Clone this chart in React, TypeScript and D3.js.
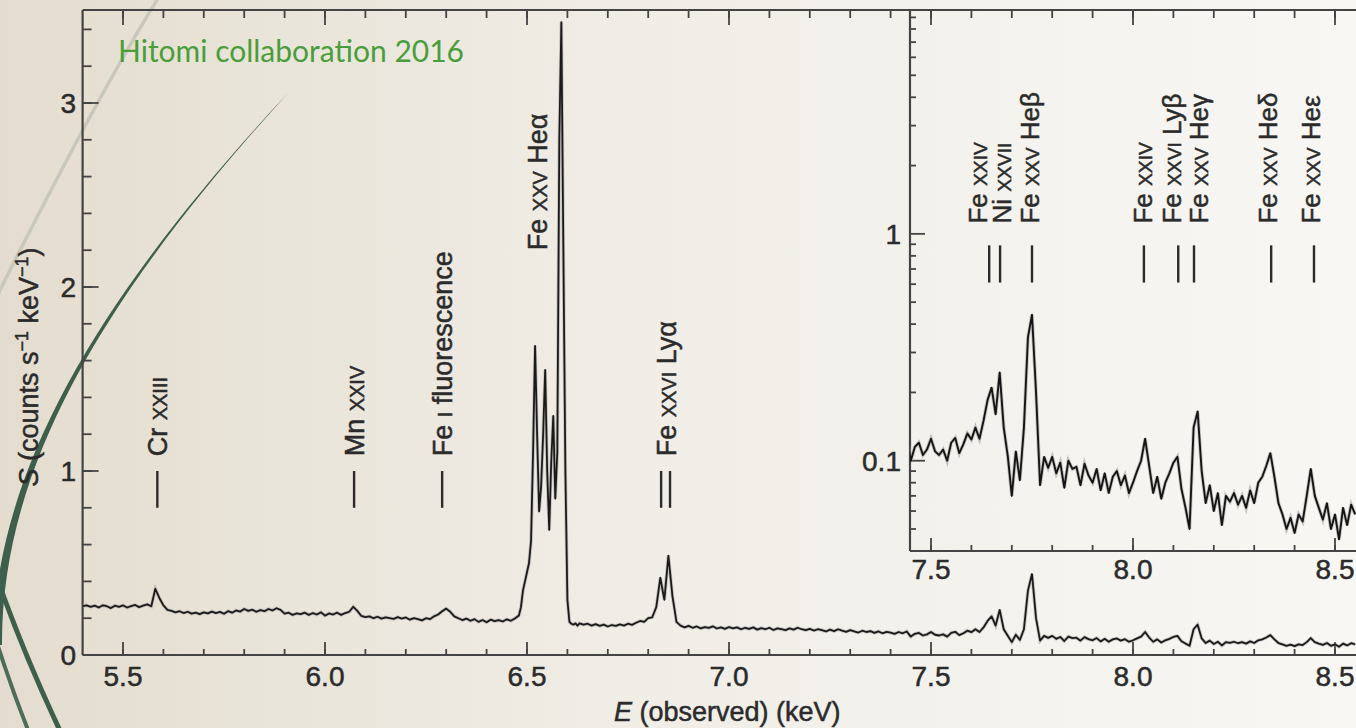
import React from 'react';
import * as d3 from 'd3';

const W = 1356;
const H = 728;

// Resolve spectrum, S (counts s-1 keV-1)
// 5.40 .. 6.48 keV, 0.01 keV bins
const lowStart = 5.4;
const lowCounts = [
  0.265, 0.27, 0.262, 0.268, 0.258, 0.27, 0.265, 0.255, 0.268, 0.262,
  0.27, 0.258, 0.266, 0.272, 0.26, 0.268, 0.275, 0.265, 0.36, 0.31,
  0.27, 0.245, 0.24, 0.232, 0.238, 0.228, 0.235, 0.225, 0.23, 0.222,
  0.232, 0.226, 0.236, 0.228, 0.234, 0.224, 0.238, 0.23, 0.242, 0.236,
  0.25, 0.24, 0.246, 0.235, 0.244, 0.238, 0.25, 0.242, 0.254, 0.245,
  0.225, 0.23, 0.218, 0.226, 0.222, 0.23, 0.218, 0.228, 0.22, 0.232,
  0.214, 0.226, 0.22, 0.23, 0.218, 0.228, 0.235, 0.262, 0.24, 0.212,
  0.206, 0.21, 0.2, 0.208, 0.198, 0.205, 0.2, 0.196, 0.206, 0.198,
  0.204, 0.192, 0.2, 0.195, 0.188, 0.2, 0.195, 0.21, 0.22, 0.238,
  0.252, 0.235, 0.21, 0.2, 0.19, 0.198, 0.186, 0.195, 0.18, 0.19,
  0.178, 0.192, 0.184, 0.19, 0.182, 0.194, 0.186, 0.198, 0.215,
];
// Fe XXV He-alpha complex, 6.485 .. 6.625 keV, 0.005 keV bins
const heStart = 6.485;
const heCounts = [
  0.26, 0.35, 0.4, 0.45, 0.5, 0.62, 1.1, 1.68, 1.2, 0.78,
  0.92, 1.2, 1.55, 1.0, 0.68, 1.05, 1.3, 0.85, 1.1, 2.8,
  3.44, 2.2, 1.0, 0.3, 0.18, 0.17, 0.165, 0.172, 0.16,
];
// 6.63 .. 8.55 keV, 0.01 keV bins
const highStart = 6.63;
const highCounts = [
  0.172, 0.165, 0.17, 0.16, 0.168, 0.158, 0.165, 0.155, 0.163, 0.158,
  0.166, 0.16, 0.17, 0.164, 0.175, 0.185, 0.18, 0.2, 0.205, 0.26,
  0.42, 0.3, 0.54, 0.32, 0.18, 0.16, 0.15, 0.158, 0.148, 0.155,
  0.145, 0.152, 0.147, 0.156, 0.144, 0.15, 0.142, 0.152, 0.145, 0.15,
  0.14, 0.148, 0.142, 0.15, 0.138, 0.146, 0.14, 0.148, 0.136, 0.145,
  0.14, 0.135, 0.145, 0.138, 0.148, 0.14, 0.135, 0.142, 0.133, 0.14,
  0.135, 0.128, 0.138, 0.13, 0.14, 0.132, 0.126, 0.135, 0.128, 0.122,
  0.132, 0.125, 0.13, 0.12, 0.128, 0.118, 0.126, 0.122, 0.115, 0.125,
  0.118, 0.128, 0.1, 0.115, 0.12, 0.106, 0.112, 0.125, 0.11, 0.106,
  0.112, 0.1, 0.12, 0.126, 0.108, 0.118, 0.132, 0.124, 0.14, 0.125,
  0.15, 0.185, 0.21, 0.16, 0.245, 0.14, 0.105, 0.07, 0.11, 0.082,
  0.14, 0.35, 0.44, 0.2, 0.078, 0.104, 0.093, 0.104, 0.088, 0.098,
  0.076, 0.1, 0.092, 0.094, 0.078, 0.097, 0.086, 0.08, 0.092, 0.074,
  0.088, 0.072, 0.085, 0.09, 0.078, 0.086, 0.072, 0.08, 0.09, 0.1,
  0.125, 0.095, 0.072, 0.085, 0.068, 0.08, 0.088, 0.098, 0.104, 0.075,
  0.062, 0.05, 0.14, 0.165, 0.09, 0.065, 0.078, 0.06, 0.072, 0.052,
  0.07, 0.066, 0.072, 0.064, 0.07, 0.062, 0.074, 0.065, 0.08, 0.085,
  0.095, 0.108, 0.085, 0.065, 0.058, 0.05, 0.056, 0.048, 0.058, 0.054,
  0.07, 0.092, 0.07, 0.062, 0.055, 0.065, 0.05, 0.058, 0.045, 0.062,
  0.052, 0.064, 0.058,
];

const xMajor = [5.5, 6.0, 6.5, 7.0, 7.5, 8.0, 8.5];
const yMajor = [0, 1, 2, 3];
const insetXMajor = [7.5, 8.0, 8.5];
const insetYMajor = [0.1, 1];
const insetYLabels = ['0.1', '1'];

// line identifications, main panel
const mainEl = ['Cr', 'Mn', 'Fe', 'Fe', 'Fe'];
const mainIon = ['XXIII', 'XXIV', 'I', 'XXV', 'XXVI'];
const mainTr = ['', '', 'fluorescence', 'Heα', 'Lyα'];
const mainLabelE = [5.585, 6.072, 6.29, 6.525, 6.845];
const mainLabelS = [1.08, 1.08, 1.08, 2.2, 1.08];
const mainBarE = [5.585, 6.072, 6.29, 6.832, 6.854];

// line identifications, inset
const insetEl = ['Fe', 'Ni', 'Fe', 'Fe', 'Fe', 'Fe', 'Fe', 'Fe'];
const insetIon = ['XXIV', 'XXVII', 'XXV', 'XXIV', 'XXVI', 'XXV', 'XXV', 'XXV'];
const insetTr = ['', '', 'Heβ', '', 'Lyβ', 'Heγ', 'Heδ', 'Heε'];
const insetLabelE = [7.616, 7.676, 7.745, 8.025, 8.097, 8.164, 8.335, 8.441];
const insetBarE = [7.644, 7.671, 7.75, 8.027, 8.112, 8.151, 8.342, 8.448];

type Pt = { e: number; s: number };

const spectrum: Pt[] = [
  ...lowCounts.map((s, i) => ({ e: lowStart + i * 0.01, s })),
  ...heCounts.map((s, i) => ({ e: heStart + i * 0.005, s })),
  ...highCounts.map((s, i) => ({ e: highStart + i * 0.01, s })),
];

const FONT = "'Liberation Sans', Arial, Helvetica, sans-serif";
const INK = '#2b2b2b';
const AXIS = '#444';

function LineLabel({ x, y, el, ion, tr, fs }: any) {
  return (
    <text
      transform={`translate(${x},${y}) rotate(-90)`}
      dy="0.35em"
      fontSize={fs}
      fill={INK}
      stroke={INK}
      strokeWidth={0.5}
    >
      {el + ' '}
      <tspan fontSize={fs * 0.74}>{ion}</tspan>
      {tr ? ' ' + tr : ''}
    </text>
  );
}

export default function App() {
  const x = d3.scaleLinear().domain([5.4, 8.6]).range([82.6, 82.6 + 404 * 3.2]);
  const y = d3.scaleLinear().domain([0, 3.5]).range([655, 11]);
  const yIn = d3.scaleLog().domain([0.04, 9.7]).range([551, 10]);

  const left = x(5.4);
  const bottom = y(0);
  const top = 10;
  const inLeft = x(7.448);
  const inBottom = yIn(0.04);

  const mainLine = d3
    .line<Pt>()
    .x((d) => x(d.e))
    .y((d) => y(d.s))(spectrum) as string;
  const insetLine = d3
    .line<Pt>()
    .x((d) => x(d.e))
    .y((d) => yIn(d.s))(spectrum.filter((d) => d.e > 7.4)) as string;

  const xMinor = d3.range(5.5, 8.56, 0.1);
  const yMinor = d3.range(0.2, 3.45, 0.2);
  const inXMinor = d3.range(7.5, 8.56, 0.1);
  const inYMinor = [0.05, 0.06, 0.07, 0.08, 0.09, 0.2, 0.3, 0.4, 0.5, 0.6, 0.7, 0.8, 0.9, 2, 3, 4, 5, 6, 7, 8, 9];

  return (
    <svg width={W} height={H} style={{ display: 'block', position: 'absolute', left: 0, top: 0 }} fontFamily={FONT}>
      <defs>
        <linearGradient id="bg" x1="0" y1="0" x2="1" y2="0">
          <stop offset="0" stopColor="#e4ddcf" />
          <stop offset="0.45" stopColor="#f0ede6" />
          <stop offset="1" stopColor="#f8f7f4" />
        </linearGradient>
        <clipPath id="mainClip">
          <rect x={left} y={top} width={W - left} height={bottom - top} />
        </clipPath>
        <clipPath id="insetClip">
          <rect x={inLeft} y={top} width={W - inLeft} height={inBottom - top} />
        </clipPath>
      </defs>
      <rect x={0} y={0} width={W} height={H} fill="url(#bg)" />

      {/* slide decoration arcs */}
      <path d="M160,-5 Q95,100 -5,300" fill="none" stroke="#c6c9bb" strokeWidth={3.5} />
      <path d="M288,93 C104,290 -6,468 -7,645 L2,645 C1,462 110,289 288,93 Z" fill="#3e5f4c" />
      <path d="M-4,575 Q22,650 62,735" fill="none" stroke="#3e5f4c" strokeWidth={5} />
      <path d="M-4,640 Q12,690 30,735" fill="none" stroke="#4d6c5a" strokeWidth={4} />

      {/* main frame */}
      <g stroke={AXIS} strokeWidth={2.2} fill="none">
        <line x1={left} x2={left} y1={top} y2={bottom} />
        <line x1={left} x2={W} y1={top} y2={top} />
        <line x1={left} x2={W} y1={bottom} y2={bottom} />
      </g>
      <g stroke={AXIS} strokeWidth={1.8}>
        {xMinor.map((v, i) => (
          <g key={'xm' + i}>
            <line x1={x(v)} x2={x(v)} y1={bottom} y2={bottom - 6} />
            <line x1={x(v)} x2={x(v)} y1={top} y2={top + 8} />
          </g>
        ))}
        {xMajor.map((v) => (
          <g key={'xM' + v}>
            <line x1={x(v)} x2={x(v)} y1={bottom} y2={bottom - 13} />
            <line x1={x(v)} x2={x(v)} y1={top} y2={top + 15} />
          </g>
        ))}
        {yMinor.map((v, i) => (
          <line key={'ym' + i} x1={left} x2={left + 9} y1={y(v)} y2={y(v)} />
        ))}
        {yMajor.map((v) => (
          <line key={'yM' + v} x1={left} x2={left + 16} y1={y(v)} y2={y(v)} />
        ))}
      </g>
      <g fill={INK} fontSize={28} stroke={INK} strokeWidth={0.5}>
        {xMajor.map((v) => (
          <text key={'xl' + v} x={x(v)} y={686} textAnchor="middle">
            {v.toFixed(1)}
          </text>
        ))}
        {yMajor.map((v) => (
          <text key={'yl' + v} x={76} y={y(v)} dy="0.36em" textAnchor="end">
            {v}
          </text>
        ))}
      </g>

      {/* main spectrum */}
      <g clipPath="url(#mainClip)" fill="none">
        <path d={mainLine} stroke="#9a9a9a" strokeWidth={3.4} strokeOpacity={0.55} />
        <path d={mainLine} stroke="#1a1a1a" strokeWidth={1.8} strokeLinejoin="round" />
      </g>

      {/* main line identifications */}
      <g stroke={INK} strokeWidth={2.4}>
        {mainBarE.map((e, i) => (
          <line key={'mb' + i} x1={x(e)} x2={x(e)} y1={y(0.8)} y2={y(1.0)} />
        ))}
      </g>
      {mainEl.map((el, i) => (
        <LineLabel key={'ml' + i} x={x(mainLabelE[i])} y={y(mainLabelS[i])} el={el} ion={mainIon[i]} tr={mainTr[i]} fs={27} />
      ))}

      {/* inset */}
      <g stroke={AXIS} strokeWidth={2.2} fill="none">
        <line x1={inLeft} x2={inLeft} y1={top} y2={inBottom} />
        <line x1={inLeft} x2={W} y1={inBottom} y2={inBottom} />
      </g>
      <g stroke={AXIS} strokeWidth={1.8}>
        {inXMinor.map((v, i) => (
          <line key={'ixm' + i} x1={x(v)} x2={x(v)} y1={inBottom} y2={inBottom - 6} />
        ))}
        {insetXMajor.map((v) => (
          <line key={'ixM' + v} x1={x(v)} x2={x(v)} y1={inBottom} y2={inBottom - 13} />
        ))}
        {inYMinor.map((v, i) => (
          <line key={'iym' + i} x1={inLeft} x2={inLeft + 6} y1={yIn(v)} y2={yIn(v)} />
        ))}
        {insetYMajor.map((v) => (
          <line key={'iyM' + v} x1={inLeft} x2={inLeft + 15} y1={yIn(v)} y2={yIn(v)} />
        ))}
      </g>
      <g fill={INK} fontSize={28} stroke={INK} strokeWidth={0.5}>
        {insetXMajor.map((v) => (
          <text key={'ixl' + v} x={x(v)} y={579} textAnchor="middle">
            {v.toFixed(1)}
          </text>
        ))}
        {insetYMajor.map((v, i) => (
          <text key={'iyl' + v} x={inLeft - 9} y={yIn(v)} dy="0.36em" textAnchor="end">
            {insetYLabels[i]}
          </text>
        ))}
      </g>
      <g clipPath="url(#insetClip)" fill="none">
        <path d={insetLine} stroke="#9a9a9a" strokeWidth={3.6} strokeOpacity={0.55} />
        <path d={insetLine} stroke="#151515" strokeWidth={1.9} strokeLinejoin="round" />
      </g>
      <g stroke={INK} strokeWidth={2.4}>
        {insetBarE.map((e, i) => (
          <line key={'ib' + i} x1={x(e)} x2={x(e)} y1={yIn(0.61)} y2={yIn(0.89)} />
        ))}
      </g>
      {insetEl.map((el, i) => (
        <LineLabel key={'il' + i} x={x(insetLabelE[i])} y={yIn(1.11)} el={el} ion={insetIon[i]} tr={insetTr[i]} fs={26} />
      ))}

      {/* axis titles */}
      <text
        transform={`translate(29,${367}) rotate(-90)`}
        dy="0.35em"
        textAnchor="middle"
        fontSize={27}
        fill={INK}
        stroke={INK}
        strokeWidth={0.5}
      >
        <tspan fontStyle="italic">S</tspan>
        {' (counts s'}
        <tspan dy={-10} fontSize={18}>−1</tspan>
        <tspan dy={10}>{' keV'}</tspan>
        <tspan dy={-10} fontSize={18}>−1</tspan>
        <tspan dy={10}>)</tspan>
      </text>
      <text x={614} y={721} fontSize={27} fill={INK} stroke={INK} strokeWidth={0.5}>
        <tspan fontStyle="italic">E</tspan>
        {' (observed) (keV)'}
      </text>

      <text x={118} y={62} fontFamily="Lato, 'Noto Sans', sans-serif" fontSize={30} fill="#4a9e3a">
        Hitomi collaboration 2016
      </text>
    </svg>
  );
}
